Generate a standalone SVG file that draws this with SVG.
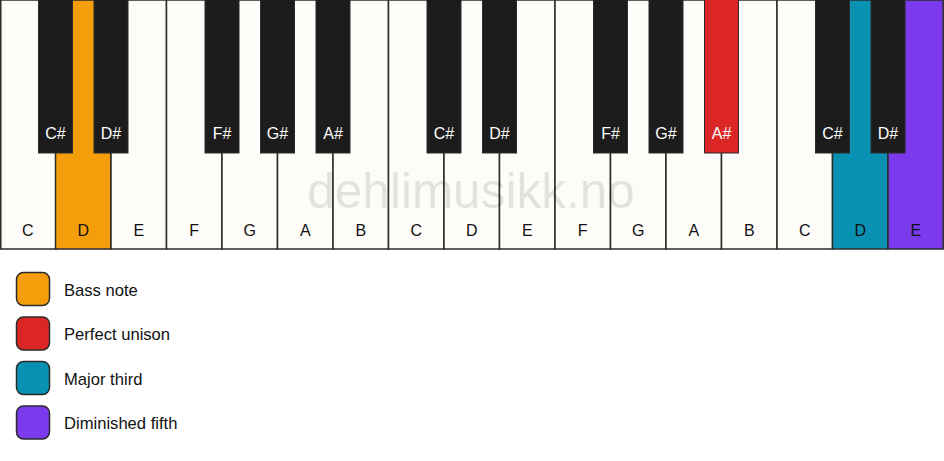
<svg xmlns="http://www.w3.org/2000/svg" width="944" height="461" viewBox="0 0 944 461">
<style>
.w{fill:#fdfcf9;stroke:#2b2b2b;stroke-width:1.5}
.b{fill:#1c1c1c;stroke:#2b2b2b;stroke-width:1}
.t{font-family:"Liberation Sans",Arial,sans-serif;font-size:16px;text-anchor:middle;fill:#111}
.tb{font-family:"Liberation Sans",Arial,sans-serif;font-size:16px;text-anchor:middle;fill:#fff}
.lg{font-family:"Liberation Sans",Arial,sans-serif;font-size:16.6px;fill:#111}
.sw{stroke:#2b2b2b;stroke-width:1.5}
.wm{font-family:"Liberation Sans",Arial,sans-serif;font-size:49.5px;text-anchor:middle;fill:#000;fill-opacity:0.1}
</style>
<rect width="944" height="461" fill="#ffffff"/>
<g id="white-keys">
<rect class="w" x="0.75" y="0" width="55.5" height="249"/>
<rect class="w" x="55.5" y="0" width="55.5" height="249" style="fill:#f59e0b"/>
<rect class="w" x="111" y="0" width="55.5" height="249"/>
<rect class="w" x="166.5" y="0" width="55.5" height="249"/>
<rect class="w" x="222" y="0" width="55.5" height="249"/>
<rect class="w" x="277.5" y="0" width="55.5" height="249"/>
<rect class="w" x="333" y="0" width="55.5" height="249"/>
<rect class="w" x="388.5" y="0" width="55.5" height="249"/>
<rect class="w" x="444" y="0" width="55.5" height="249"/>
<rect class="w" x="499.5" y="0" width="55.5" height="249"/>
<rect class="w" x="555" y="0" width="55.5" height="249"/>
<rect class="w" x="610.5" y="0" width="55.5" height="249"/>
<rect class="w" x="666" y="0" width="55.5" height="249"/>
<rect class="w" x="721.5" y="0" width="55.5" height="249"/>
<rect class="w" x="777" y="0" width="55.5" height="249"/>
<rect class="w" x="832.5" y="0" width="55.5" height="249" style="fill:#0891b2"/>
<rect class="w" x="888" y="0" width="55.2" height="249" style="fill:#7c3aed"/>
</g>
<text class="wm" x="471" y="208">dehlimusikk.no</text>
<g id="white-labels">
<text class="t" x="27.75" y="236">C</text>
<text class="t" x="83.25" y="236">D</text>
<text class="t" x="138.75" y="236">E</text>
<text class="t" x="194.25" y="236">F</text>
<text class="t" x="249.75" y="236">G</text>
<text class="t" x="305.25" y="236">A</text>
<text class="t" x="360.75" y="236">B</text>
<text class="t" x="416.25" y="236">C</text>
<text class="t" x="471.75" y="236">D</text>
<text class="t" x="527.25" y="236">E</text>
<text class="t" x="582.75" y="236">F</text>
<text class="t" x="638.25" y="236">G</text>
<text class="t" x="693.75" y="236">A</text>
<text class="t" x="749.25" y="236">B</text>
<text class="t" x="804.75" y="236">C</text>
<text class="t" x="860.25" y="236">D</text>
<text class="t" x="915.75" y="236">E</text>
</g>
<g id="black-keys">
<rect class="b" x="38.5" y="-1" width="34" height="154"/>
<rect class="b" x="94" y="-1" width="34" height="154"/>
<rect class="b" x="205" y="-1" width="34" height="154"/>
<rect class="b" x="260.5" y="-1" width="34" height="154"/>
<rect class="b" x="316" y="-1" width="34" height="154"/>
<rect class="b" x="427" y="-1" width="34" height="154"/>
<rect class="b" x="482.5" y="-1" width="34" height="154"/>
<rect class="b" x="593.5" y="-1" width="34" height="154"/>
<rect class="b" x="649" y="-1" width="34" height="154"/>
<rect class="b" x="704.5" y="-1" width="34" height="154" style="fill:#dc2626"/>
<rect class="b" x="815.5" y="-1" width="34" height="154"/>
<rect class="b" x="871" y="-1" width="34" height="154"/>
</g>
<g id="black-labels">
<text class="tb" x="55.5" y="139">C#</text>
<text class="tb" x="111" y="139">D#</text>
<text class="tb" x="222" y="139">F#</text>
<text class="tb" x="277.5" y="139">G#</text>
<text class="tb" x="333" y="139">A#</text>
<text class="tb" x="444" y="139">C#</text>
<text class="tb" x="499.5" y="139">D#</text>
<text class="tb" x="610.5" y="139">F#</text>
<text class="tb" x="666" y="139">G#</text>
<text class="tb" x="721.5" y="139">A#</text>
<text class="tb" x="832.5" y="139">C#</text>
<text class="tb" x="888" y="139">D#</text>
</g>
<g id="legend">
<g id="legend-bass"><rect class="sw" x="16.5" y="272.5" width="33" height="33" rx="7" fill="#f59e0b"/><text class="lg" x="64" y="295.5">Bass note</text></g>
<g id="legend-unison"><rect class="sw" x="16.5" y="317" width="33" height="33" rx="7" fill="#dc2626"/><text class="lg" x="64" y="340">Perfect unison</text></g>
<g id="legend-third"><rect class="sw" x="16.5" y="361.5" width="33" height="33" rx="7" fill="#0891b2"/><text class="lg" x="64" y="384.5">Major third</text></g>
<g id="legend-fifth"><rect class="sw" x="16.5" y="406" width="33" height="33" rx="7" fill="#7c3aed"/><text class="lg" x="64" y="429">Diminished fifth</text></g>
</g>
</svg>
